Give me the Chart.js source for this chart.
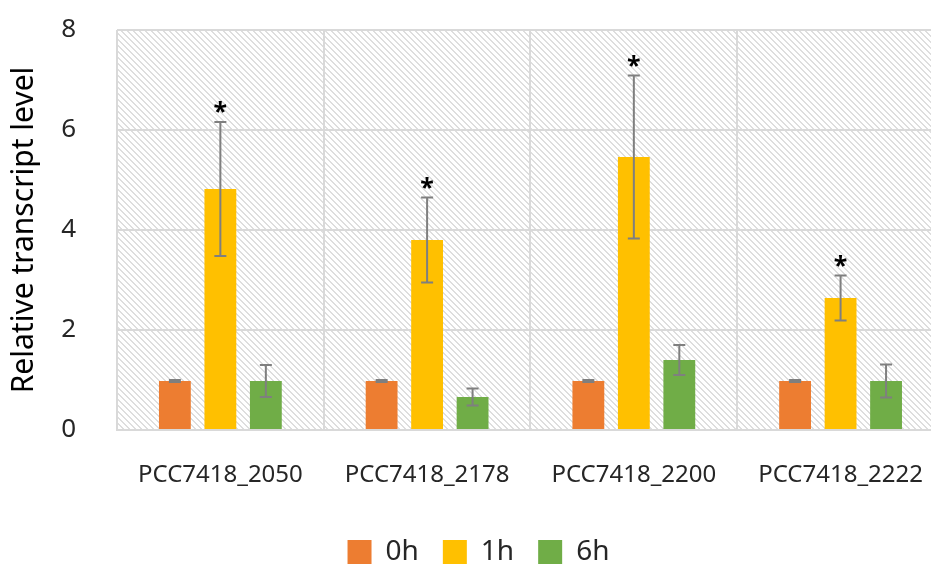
<!DOCTYPE html>
<html>
<head>
<meta charset="utf-8">
<script src="https://cdn.jsdelivr.net/npm/chart.js@4/dist/chart.umd.min.js"></script>
<style>
  html, body { margin: 0; padding: 0; background: #fff; }
  #wrap { width: 931px; height: 565px; overflow: hidden; position: relative; }
  #box { width: 955px; height: 565px; position: absolute; left: 0; top: 0; }
</style>
</head>
<body>
<div id="wrap"><div id="box"><canvas id="c"></canvas></div></div>
<script>
// Genes and sampling times
const genes = ['PCC7418_2050', 'PCC7418_2178', 'PCC7418_2200', 'PCC7418_2222'];
const timeLabels = ['0h', '1h', '6h'];

// Mean relative transcript level per time point
const level0h = [0.98, 0.98, 0.98, 0.98];
const level1h = [4.82, 3.80, 5.46, 2.64];
const level6h = [0.98, 0.66, 1.40, 0.98];

// Error (± SD) per time point
const err0h = [0.02, 0.02, 0.02, 0.02];
const err1h = [1.34, 0.85, 1.63, 0.45];
const err6h = [0.32, 0.17, 0.30, 0.33];

// Significance markers (drawn above the 1h error bar)
const signif1h = [true, true, true, true];

const yTicks = [0, 2, 4, 6, 8];

const FONT = "'Noto Sans', 'Open Sans', sans-serif";

// light diagonal hatch for the plot background
function makeHatch(ctx) {
  const t = document.createElement('canvas');
  t.width = 6; t.height = 6;
  const g = t.getContext('2d');
  g.fillStyle = '#ffffff';
  g.fillRect(0, 0, 6, 6);
  g.fillStyle = '#dedede';
  for (let i = 0; i < 6; i++) {
    g.fillRect(i, i, 1, 1);
    g.fillRect((i + 1) % 6, i, 1, 1);
  }
  return ctx.createPattern(t, 'repeat');
}

const hatchBg = {
  id: 'hatchBg',
  beforeDraw(chart) {
    const { ctx, chartArea: a } = chart;
    ctx.save();
    ctx.fillStyle = makeHatch(ctx);
    ctx.fillRect(a.left, a.top, a.right - a.left, a.bottom - a.top);
    ctx.restore();
  }
};

// nudge the legend row slightly to the right
const legendShift = {
  id: 'legendShift',
  afterLayout(chart) {
    if (chart.legend) {
      chart.legend.left += 5;
      chart.legend.right += 5;
    }
  }
};

const errorBars = {
  id: 'errorBars',
  afterDatasetsDraw(chart) {
    const { ctx } = chart;
    const y = chart.scales.y;
    ctx.save();
    chart.data.datasets.forEach((ds, di) => {
      const meta = chart.getDatasetMeta(di);
      meta.data.forEach((bar, i) => {
        const v = ds.data[i], e = ds.errors[i];
        const yt = y.getPixelForValue(v + e);
        const yb = y.getPixelForValue(v - e);
        const x = bar.x;
        ctx.strokeStyle = '#7f7f7f';
        ctx.lineWidth = 2;
        ctx.beginPath();
        ctx.moveTo(x, yt); ctx.lineTo(x, yb);
        ctx.moveTo(x - 6, yt); ctx.lineTo(x + 6, yt);
        ctx.moveTo(x - 6, yb); ctx.lineTo(x + 6, yb);
        ctx.stroke();
        if (ds.signif && ds.signif[i]) {
          ctx.fillStyle = '#000';
          ctx.font = "bold 25px " + FONT;
          ctx.textAlign = 'center';
          ctx.textBaseline = 'alphabetic';
          ctx.fillText('*', x, yt - 2);
        }
      });
    });
    ctx.restore();
  }
};

new Chart(document.getElementById('c'), {
  type: 'bar',
  data: {
    labels: genes,
    datasets: [
      { label: timeLabels[0], data: level0h, errors: err0h, backgroundColor: '#ed7d31' },
      { label: timeLabels[1], data: level1h, errors: err1h, backgroundColor: '#ffc000', signif: signif1h },
      { label: timeLabels[2], data: level6h, errors: err6h, backgroundColor: '#70ad47' }
    ]
  },
  options: {
    responsive: true,
    maintainAspectRatio: false,
    animation: false,
    layout: { padding: { top: 30, right: 8, left: 0, bottom: -11 } },
    datasets: { bar: { categoryPercentage: 0.66, barPercentage: 0.70 } },
    plugins: {
      legend: {
        position: 'bottom',
        labels: {
          font: { family: FONT, size: 28 },
          color: '#262626',
          boxWidth: 24, boxHeight: 24,
          padding: 24
        }
      },
      tooltip: { enabled: false }
    },
    scales: {
      x: {
        grid: { color: '#d9d9d9', lineWidth: 2, offset: true, drawTicks: false },
        border: { color: '#d9d9d9', width: 2 },
        ticks: { font: { family: FONT, size: 24 }, color: '#262626', padding: 31 },
        afterFit(s) { s.height = 84; }
      },
      y: {
        min: 0, max: 8,
        afterBuildTicks(s) { s.ticks = yTicks.map(v => ({ value: v })); },
        grid: { color: '#d9d9d9', lineWidth: 2, drawTicks: true, tickLength: 37, tickColor: 'rgba(0,0,0,0)' },
        border: { display: false },
        ticks: { font: { family: FONT, size: 26 }, color: '#262626', padding: 4 },
        title: { display: true, text: 'Relative transcript level', font: { family: FONT, size: 30 }, color: '#000', padding: { top: 6, bottom: 0 } },
        afterFit(s) { s.width = 117; }
      }
    }
  },
  plugins: [hatchBg, errorBars, legendShift]
});
</script>
</body>
</html>
